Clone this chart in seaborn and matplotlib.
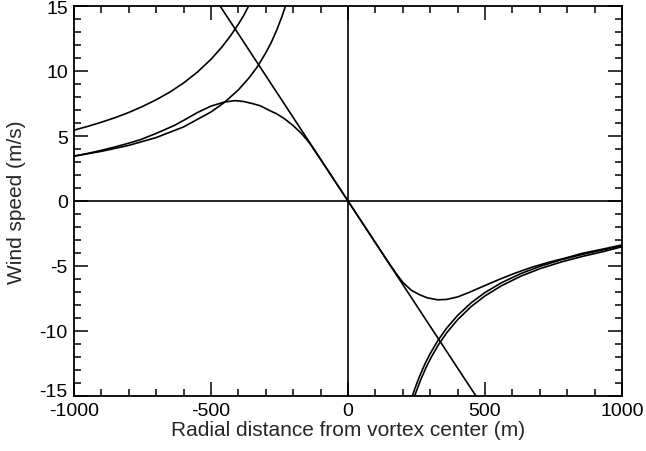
import numpy as np
import pandas as pd
import matplotlib
matplotlib.use("Agg")
import matplotlib.pyplot as plt
import matplotlib.transforms as mtransforms
import seaborn as sns
from matplotlib.ticker import MultipleLocator

# ---- data ----
# solid-body rotation line
line_r = [-470, 0, 470]
line_v = [15.1, 0.0, -15.1]

# left side: outer potential-vortex branch
a_r = [-1000, -950, -900, -850, -800, -750, -700, -650, -600, -550, -500, -460, -430, -400, -380, -360, -340]
a_v = [5.45, 5.74, 6.06, 6.41, 6.81, 7.27, 7.79, 8.38, 9.08, 9.91, 10.9, 11.85, 12.67, 13.6, 14.3, 15.1, 16.0]

# left side: inner potential-vortex branch
b_r = [-1000, -900, -800, -700, -600, -500, -450, -400, -360, -330, -300, -280, -260, -240, -225, -215]
b_v = [3.45, 3.82, 4.28, 4.88, 5.7, 6.85, 7.6, 8.55, 9.5, 10.35, 11.4, 12.2, 13.15, 14.25, 15.2, 15.9]

# combined vortex profile (left and right)
c_r = [-1000, -950, -900, -850, -800, -757, -700, -635, -600, -550, -500, -450, -412, -380, -350, -321,
       -290, -260, -230, -200, -170, -140, -100, -50, 0, 50, 100, 150, 180, 200, 230, 260, 290, 327,
       360, 400, 440, 489, 550, 611, 670, 732, 800, 854, 930, 1000]
c_v = [3.45, 3.66, 3.9, 4.16, 4.45, 4.72, 5.2, 5.8, 6.2, 6.8, 7.3, 7.62, 7.72, 7.65, 7.5, 7.33,
       7.0, 6.7, 6.3, 5.8, 5.2, 4.45, 3.2, 1.6, 0.0, -1.6, -3.2, -4.8, -5.7, -6.25, -6.85, -7.2, -7.45, -7.6,
       -7.57, -7.38, -7.05, -6.6, -6.05, -5.54, -5.1, -4.72, -4.35, -4.03, -3.7, -3.38]

# right side: two potential-vortex branches
e_r = [230, 245, 260, 280, 300, 330, 360, 400, 450, 500, 560, 630, 700, 780, 860, 930, 1000]
e_v = [-15.3, -14.37, -13.54, -12.57, -11.73, -10.67, -9.78, -8.8, -7.82, -7.04, -6.29, -5.59, -5.03, -4.51, -4.09, -3.76, -3.45]

f_r = [240, 250, 265, 285, 305, 330, 360, 400, 450, 500, 560, 630, 700, 780, 860, 930, 1000]
f_v = [-15.2, -14.6, -13.77, -12.8, -11.97, -11.06, -10.14, -9.13, -8.11, -7.3, -6.52, -5.79, -5.21, -4.68, -4.24, -3.9, -3.52]

x_ticks = [-1000, -500, 0, 500, 1000]
y_ticks = [-15, -10, -5, 0, 5, 10, 15]

# ---- plotting ----
sns.set_theme(style="ticks")
plt.rcParams['font.family'] = ['Liberation Sans', 'DejaVu Sans']

fig = plt.figure(figsize=(6.46, 4.52), dpi=100)
ax = fig.add_axes([74 / 646, 1 - 397 / 452, 548 / 646, 390 / 452])

lw = 1.2
for r, v in [(line_r, line_v), (a_r, a_v), (b_r, b_v), (c_r, c_v), (e_r, e_v), (f_r, f_v)]:
    df = pd.DataFrame({"r": r, "v": v})
    sns.lineplot(data=df, x="r", y="v", ax=ax, color="black", linewidth=lw,
                 sort=False, estimator=None)

ax.axhline(0, color="black", linewidth=lw)
ax.axvline(0, color="black", linewidth=lw)

ax.set_xlim(-1000, 1000)
ax.set_ylim(-15, 15)
ax.set_xticks(x_ticks)
ax.set_yticks(y_ticks)
ax.set_xticklabels([str(t) for t in x_ticks])
ax.set_yticklabels([str(t) for t in y_ticks])
ax.xaxis.set_minor_locator(MultipleLocator(100))
ax.yaxis.set_minor_locator(MultipleLocator(1))
ax.tick_params(which="both", direction="in", top=True, right=True, colors="black",
               labelsize=14, width=1.1)
ax.tick_params(which="major", length=10)
ax.tick_params(axis="x", which="major", pad=4.5)
ax.tick_params(axis="y", which="major", pad=4.5)
ax.tick_params(which="minor", length=5)
for s in ax.spines.values():
    s.set_linewidth(1.3)
    s.set_color("black")

# nudge lowest y label upward so it clears the x labels, as in the reference
fig.canvas.draw()
ylabels = ax.get_yticklabels()
ylabels[0].set_transform(ylabels[0].get_transform() +
                         mtransforms.ScaledTranslation(0, 6 / 100, fig.dpi_scale_trans))

ax.set_xlabel("Radial distance from vortex center (m)", fontsize=15)
ax.set_ylabel("Wind speed (m/s)", fontsize=15)
ax.xaxis.set_label_coords(0.5, -0.062)
ax.yaxis.set_label_coords(-0.088, 0.5)

fig.savefig("out.png", dpi=100)
